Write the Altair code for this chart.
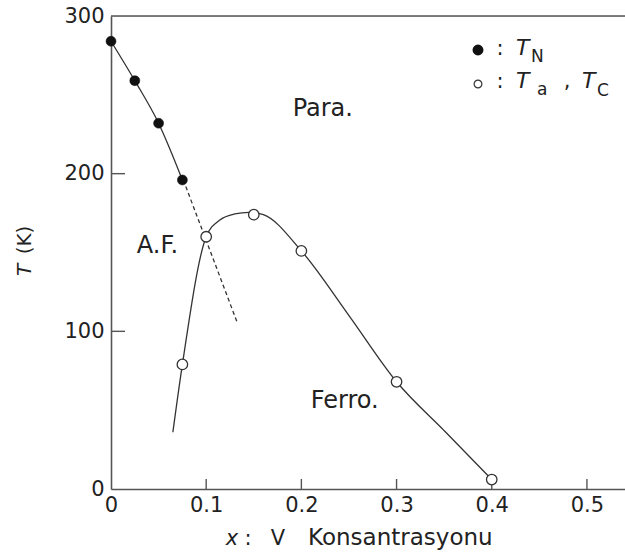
import altair as alt
import pandas as pd

# Neel temperature T_N (filled markers)
tn_x = [0.0, 0.025, 0.05, 0.075]
tn_y = [284, 259, 232, 196]

# T_a / T_C (open markers)
tc_x = [0.075, 0.1, 0.15, 0.2, 0.3, 0.4]
tc_y = [79, 160, 174, 151, 68, 6]

# guide curve through the T_a / T_C points
curve_x = [0.065, 0.075, 0.1, 0.114, 0.13, 0.145, 0.16, 0.2, 0.25, 0.3, 0.35, 0.4]
curve_y = [36, 79, 160, 170.5, 174.5, 175.5, 174, 151, 110, 68, 37, 6]

# dashed extrapolation of the T_N line
ext_x = [0.076, 0.133]
ext_y = [196, 105]

x_ticks = [0.0, 0.1, 0.2, 0.3, 0.4, 0.5]
y_ticks = [0, 100, 200, 300]
x_inner_ticks = [0.1, 0.2, 0.3, 0.4, 0.5]
y_inner_ticks = [100, 200]

W, H = 514, 473
FONT = "DejaVu Sans"
INK = "#222"
LINE = "#333"
FRAME = "#555"

xs = alt.Scale(domain=[0, 0.54], nice=False, zero=False)
ys = alt.Scale(domain=[0, 300], nice=False, zero=False)

x_axis = alt.Axis(values=x_ticks, format=".1~f", title="", grid=False, ticks=False,
                  labels=True, labelPadding=5, labelFont=FONT, labelFontSize=21,
                  labelColor=INK, domainColor=FRAME, domainWidth=1.6,
                  labelFlush=False, labelOverlap=False)
y_axis = alt.Axis(values=y_ticks, title="", grid=False, ticks=False, labels=True,
                  labelPadding=7, labelFont=FONT, labelFontSize=21, labelColor=INK,
                  domainColor=FRAME, domainWidth=1.6, labelFlush=False,
                  labelOverlap=False)

tn_df = pd.DataFrame({"x": tn_x, "y": tn_y})
tc_df = pd.DataFrame({"x": tc_x, "y": tc_y})
curve_df = pd.DataFrame({"x": curve_x, "y": curve_y})
ext_df = pd.DataFrame({"x": ext_x, "y": ext_y})
one = pd.DataFrame({"k": [0]})


def X(field="x"):
    return alt.X(f"{field}:Q", scale=xs, axis=x_axis)


def Y(field="y"):
    return alt.Y(f"{field}:Q", scale=ys, axis=y_axis)


tn_line = alt.Chart(tn_df).mark_line(interpolate="monotone", color=LINE, strokeWidth=1.3).encode(
    x=X(), y=Y()
)
tn_ext = alt.Chart(ext_df).mark_line(color=LINE, strokeWidth=1.3, strokeDash=[4, 3]).encode(
    x=X(), y=Y()
)
tc_line = alt.Chart(curve_df).mark_line(interpolate="monotone", color=LINE, strokeWidth=1.3).encode(
    x=X(), y=Y()
)

tn_pts = alt.Chart(tn_df).mark_point(shape="circle", filled=True, fill="#111", stroke="#111",
                                     strokeWidth=0.5, size=100, opacity=1).encode(x=X(), y=Y())
tc_pts = alt.Chart(tc_df).mark_point(shape="circle", filled=True, fill="white", stroke=LINE,
                                     strokeWidth=1.3, size=110, opacity=1).encode(x=X(), y=Y())

# frame top edge
top_rule = alt.Chart(one).mark_rule(color=FRAME, strokeWidth=1.6).encode(
    y=alt.Y(datum=300, type="quantitative", scale=ys, axis=y_axis)
)

# inward-pointing ticks
xt = alt.Chart(pd.DataFrame({"v": x_inner_ticks})).mark_rule(color=FRAME, strokeWidth=1.4).encode(
    x=X("v"), y=alt.value(H), y2=alt.value(H - 10)
)
yt = alt.Chart(pd.DataFrame({"v": y_inner_ticks})).mark_rule(color=FRAME, strokeWidth=1.4).encode(
    y=Y("v"), x=alt.value(0), x2=alt.value(14)
)


def region(label, xv, yv):
    return alt.Chart(one).mark_text(font=FONT, fontSize=24, color=INK, align="center",
                                    baseline="middle").encode(
        x=alt.X(datum=xv, type="quantitative", scale=xs, axis=x_axis),
        y=alt.Y(datum=yv, type="quantitative", scale=ys, axis=y_axis),
        text=alt.value(label),
    )


def label(txt, px, py, size=21, italic=False, align="left", baseline="alphabetic", angle=0):
    kw = dict(font=FONT, fontSize=size, color=INK, align=align, baseline=baseline)
    if italic:
        kw["fontStyle"] = "italic"
    if angle:
        kw["angle"] = angle
    return alt.Chart(one).mark_text(**kw).encode(
        x=alt.value(px), y=alt.value(py), text=alt.value(txt)
    )


regions = [
    region("Para.", 0.2225, 241),
    region("A.F.", 0.0488, 154),
    region("Ferro.", 0.2455, 56),
]

# key in the upper right
key_dot = alt.Chart(one).mark_point(shape="circle", filled=True, fill="#111", stroke="#111",
                                    size=80, opacity=1).encode(x=alt.value(367), y=alt.value(34))
key_ring = alt.Chart(one).mark_point(shape="circle", filled=True, fill="white", stroke=LINE,
                                     strokeWidth=1.2, size=60, opacity=1).encode(
    x=alt.value(367), y=alt.value(68))
key_text = [
    label(":", 389, 39, size=21, align="center"),
    label("T", 405, 39, size=22, italic=True),
    label("N", 420, 46, size=17),
    label(":", 389, 72, size=21, align="center"),
    label("T", 405, 72, size=22, italic=True),
    label("a", 426, 79, size=17),
    label(",", 456, 72, size=21, align="center"),
    label("T", 471, 72, size=22, italic=True),
    label("C", 486, 80, size=17),
]

# axis titles
titles = [
    label("x", 121, 529, size=21, italic=True, align="center"),
    label(":", 137, 529, size=21, align="center"),
    label("V", 167, 529, size=21, align="center"),
    label("Konsantrasyonu", 197, 529, size=23),
    label("T", -86, 254, size=20, italic=True, align="center", baseline="middle", angle=270),
    label("(K)", -86, 224, size=20, align="center", baseline="middle", angle=270),
]

chart = alt.layer(
    tn_line, tn_ext, tc_line, top_rule, xt, yt, tn_pts, tc_pts,
    *regions, key_dot, key_ring, *key_text, *titles
).properties(
    width=W, height=H,
    autosize=alt.AutoSizeParams(type="none"),
    padding={"left": 111, "top": 16, "right": 0, "bottom": 67},
).configure_view(stroke=None).configure(background="white")

chart.save("out.html", embed_options={"renderer": "svg", "actions": False})
